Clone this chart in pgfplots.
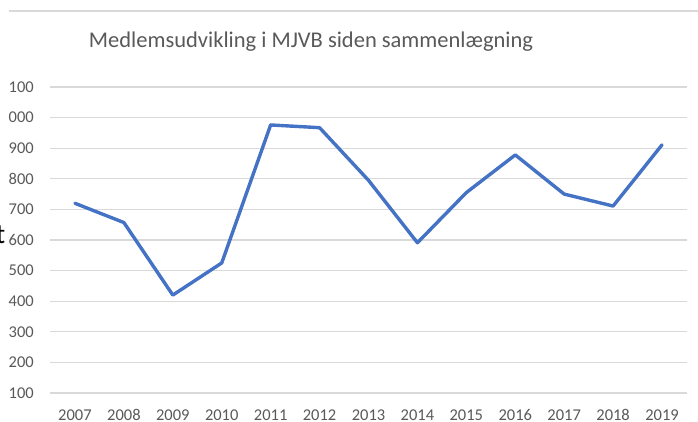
\documentclass[border=0pt]{standalone}
\usepackage{fontspec}
\setmainfont{Carlito}
\usepackage{pgfplots}
\pgfplotsset{compat=1.18}
\definecolor{linecol}{HTML}{4472C4}
\definecolor{txtgray}{HTML}{595959}
\definecolor{gridgray}{HTML}{D9D9D9}
\begin{document}
\begin{tikzpicture}[x=1pt,y=1pt]
\useasboundingbox (0,0) rectangle (698,421);
\draw[gridgray, line width=1.2pt] (9,410) -- (698,410);
\node[anchor=base, text=txtgray, font=\fontsize{22.5}{27}\selectfont, inner sep=0pt] at (311,373) {Medlemsudvikling i MJVB siden sammenlægning};
\node[anchor=base east, text=black, font=\fontsize{28}{32}\selectfont, inner sep=0pt] at (5.5,178) {t};
\begin{axis}[
  at={(50.5pt,28pt)}, anchor=south west,
  scale only axis, width=636pt, height=306pt,
  xmin=-0.5, xmax=12.5, ymin=100, ymax=1100,
  enlargelimits=false,
  axis line style={draw=none},
  tick style={draw=none},
  ymajorgrids, grid style={gridgray, line width=1.2pt},
  xtick={0,...,12},
  xticklabels={2007,2008,2009,2010,2011,2012,2013,2014,2015,2016,2017,2018,2019},
  ytick={100,200,...,1100},
  yticklabels={100,200,300,400,500,600,700,800,900,000,100},
  /pgf/number format/assume math mode=true,
  ticklabel style={text=txtgray, font=\fontsize{16.5}{18}\selectfont, inner sep=0pt},
  xticklabel style={anchor=base, yshift=-27.5pt},
  yticklabel style={anchor=east, xshift=-16.5pt},
  clip=false,
]
\addplot[linecol, line width=3.4pt, line join=round, line cap=round] coordinates {
  (0,720) (1,657) (2,420) (3,525) (4,976) (5,967) (6,795) (7,591) (8,755) (9,878) (10,750) (11,711) (12,911)
};
\end{axis}
\end{tikzpicture}
\end{document}
